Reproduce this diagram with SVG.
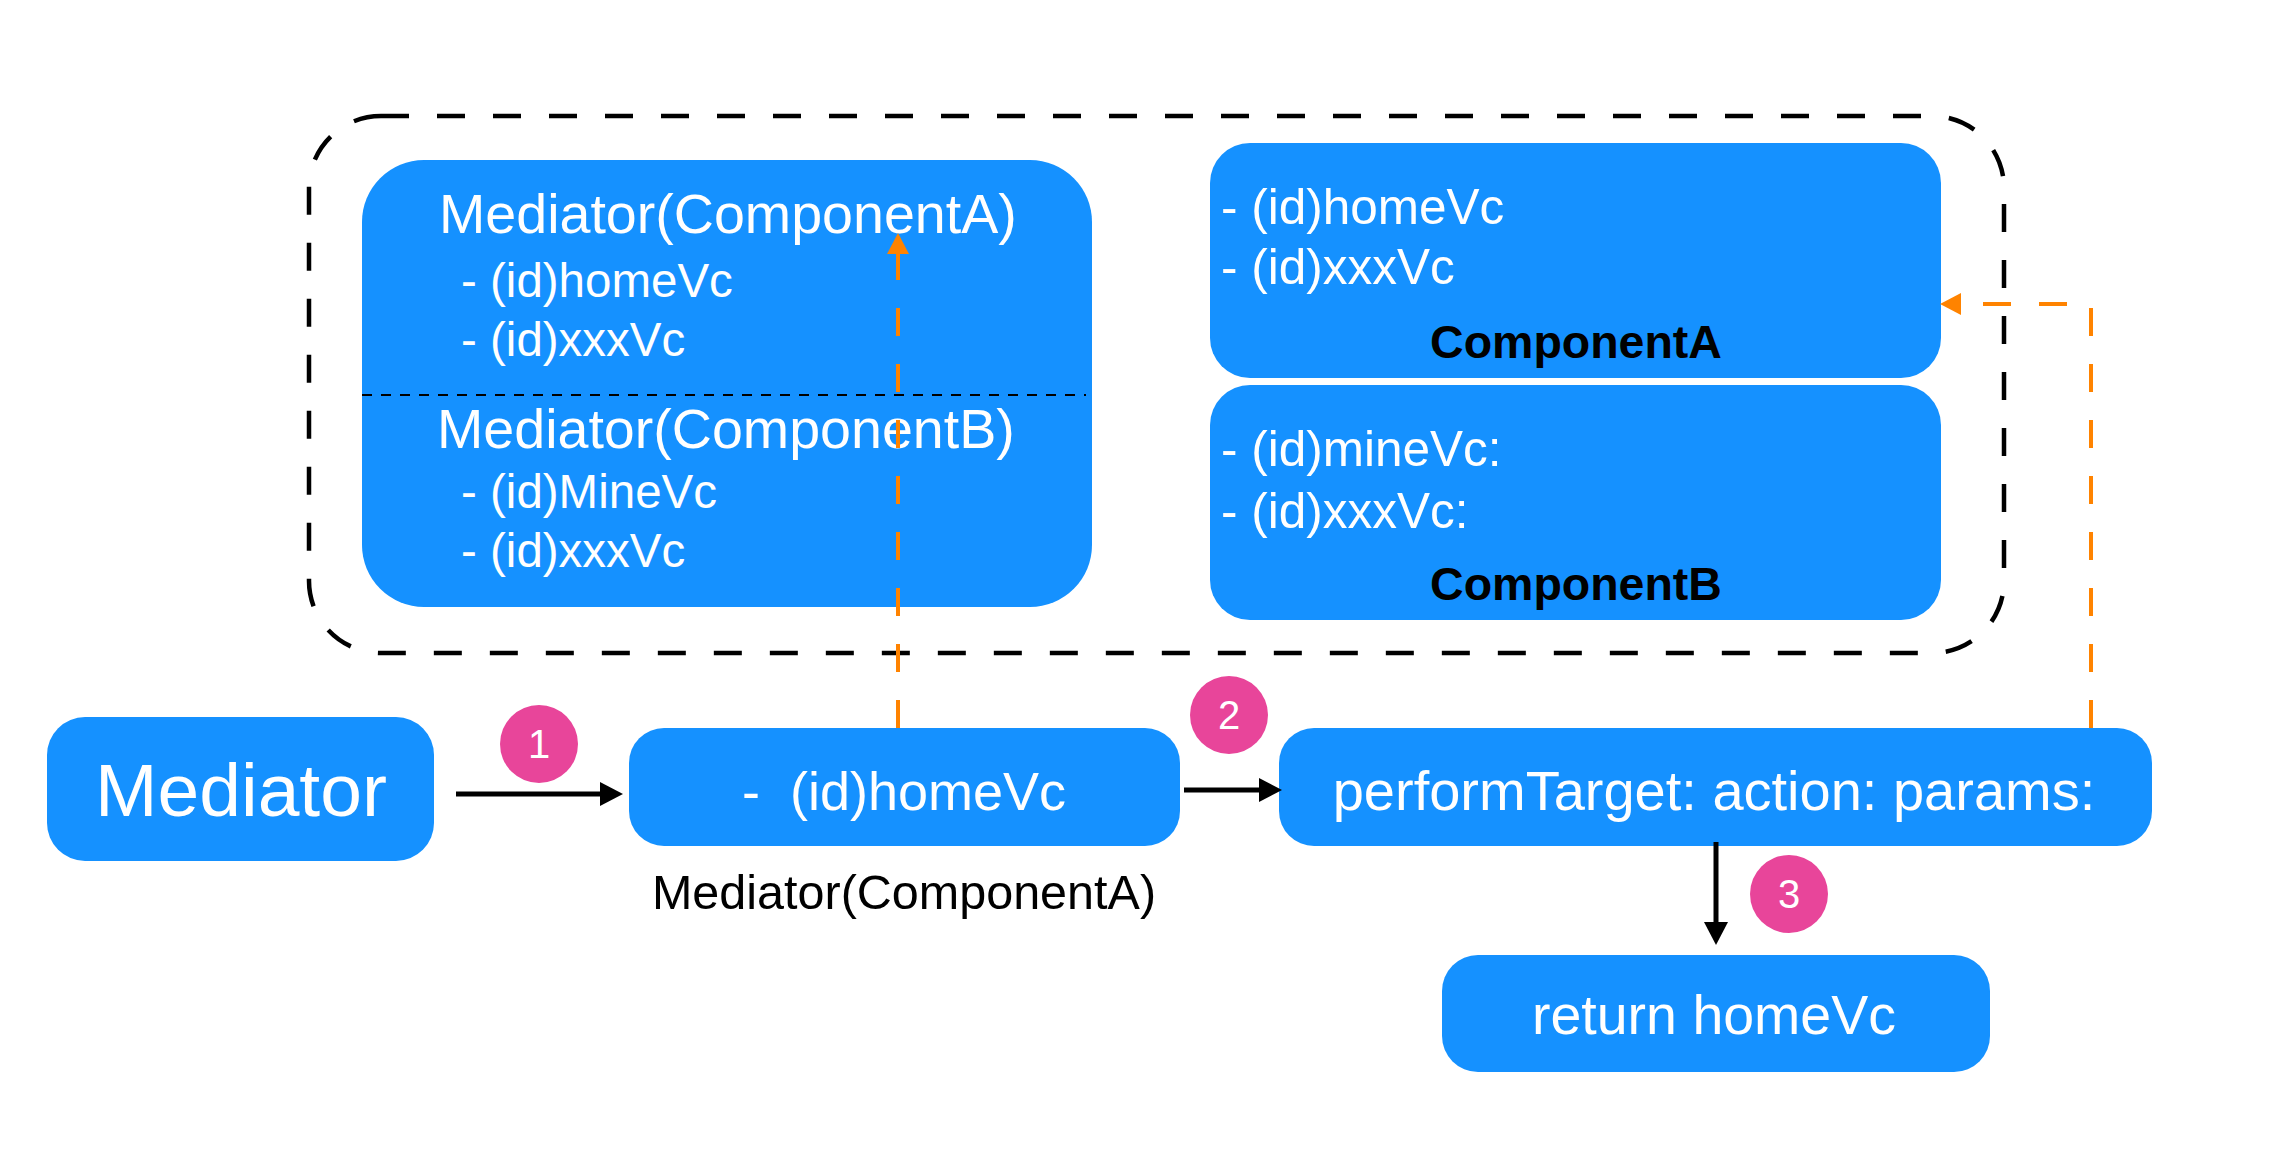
<svg xmlns="http://www.w3.org/2000/svg" width="2280" height="1176" viewBox="0 0 2280 1176">
<style>
.box{fill:#1591FF}
.w{fill:#FFFFFF;font-family:"Liberation Sans",Arial,sans-serif}
.b{fill:#000000;font-family:"Liberation Sans",Arial,sans-serif}
.bold{font-weight:bold}
.badge{fill:#E8459A}
.num{fill:#FFFFFF;font-family:"Liberation Sans",Arial,sans-serif;font-size:40px;text-anchor:middle}
.conn{fill:none;stroke:#000;stroke-width:5}
.oconn{fill:none;stroke:#FF8300;stroke-width:4;stroke-dasharray:28 28}
</style>
<defs>
<marker id="ah" markerUnits="userSpaceOnUse" markerWidth="23" markerHeight="24" refX="0" refY="12" orient="auto" viewBox="0 0 23 24"><path d="M0,0 L23,12 L0,24 z" fill="#000"/></marker>
<marker id="oh" markerUnits="userSpaceOnUse" markerWidth="21" markerHeight="22" refX="0" refY="11" orient="auto" viewBox="0 0 21 22"><path d="M0,0 L21,11 L0,22 z" fill="#FF8300"/></marker>
</defs>
<rect width="2280" height="1176" fill="#FFFFFF"/>

<g id="container">
<rect x="309" y="116" width="1695" height="537" rx="72" fill="none" stroke="#000" stroke-width="4.5" stroke-dasharray="28 28"/>
</g>

<g id="mediator-categories">
<rect class="box" x="362" y="160" width="730" height="447" rx="62"/>
<line x1="362" y1="395" x2="1086" y2="395" stroke="#000" stroke-width="2" stroke-dasharray="10 9"/>
<text class="w" x="439" y="233" font-size="55.6">Mediator(ComponentA)</text>
<text class="w" x="461" y="297" font-size="47.5">- (id)homeVc</text>
<text class="w" x="461" y="356" font-size="47.5">- (id)xxxVc</text>
<text class="w" x="437" y="448" font-size="55.6">Mediator(ComponentB)</text>
<text class="w" x="461" y="508" font-size="47.5">- (id)MineVc</text>
<text class="w" x="461" y="567" font-size="47.5">- (id)xxxVc</text>
</g>

<g id="componentA">
<rect class="box" x="1210" y="143" width="731" height="235" rx="40"/>
<text class="w" x="1221" y="224" font-size="49.5">- (id)homeVc</text>
<text class="w" x="1221" y="284" font-size="49.5">- (id)xxxVc</text>
<text class="b bold" x="1576" y="358" font-size="46.5" text-anchor="middle">ComponentA</text>
</g>

<g id="componentB">
<rect class="box" x="1210" y="385" width="731" height="235" rx="40"/>
<text class="w" x="1221" y="466" font-size="49.5">- (id)mineVc:</text>
<text class="w" x="1221" y="528" font-size="49.5">- (id)xxxVc:</text>
<text class="b bold" x="1576" y="600" font-size="46.5" text-anchor="middle">ComponentB</text>
</g>

<g id="mediator">
<rect class="box" x="47" y="717" width="387" height="144" rx="38"/>
<text class="w" x="241" y="816" font-size="75" text-anchor="middle">Mediator</text>
</g>

<g id="homeVc-call">
<rect class="box" x="629" y="728" width="551" height="118" rx="35"/>
<text class="w" x="904" y="810" font-size="54" text-anchor="middle" xml:space="preserve">-  (id)homeVc</text>
<text class="b" x="904" y="909" font-size="48.5" text-anchor="middle">Mediator(ComponentA)</text>
</g>

<g id="performTarget">
<rect class="box" x="1279" y="728" width="873" height="118" rx="35"/>
<text class="w" x="1714" y="810" font-size="56" text-anchor="middle">performTarget: action: params:</text>
</g>

<g id="return-homeVc">
<rect class="box" x="1442" y="955" width="548" height="117" rx="36"/>
<text class="w" x="1714" y="1034" font-size="55.5" text-anchor="middle">return homeVc</text>
</g>

<g id="connectors">
<line class="conn" x1="456" y1="794" x2="600" y2="794" marker-end="url(#ah)"/>
<line class="conn" x1="1184" y1="790" x2="1259" y2="790" marker-end="url(#ah)"/>
<line class="conn" x1="1716" y1="842" x2="1716" y2="922" stroke-width="4" marker-end="url(#ah)"/>
<path class="oconn" d="M898,728 L898,254" marker-end="url(#oh)"/>
<path class="oconn" d="M2091,728 L2091,304 L1961,304" marker-end="url(#oh)"/>
</g>

<g id="steps">
<circle class="badge" cx="539" cy="744" r="39"/>
<text class="num" x="539" y="758">1</text>
<circle class="badge" cx="1229" cy="715" r="39"/>
<text class="num" x="1229" y="729">2</text>
<circle class="badge" cx="1789" cy="894" r="39"/>
<text class="num" x="1789" y="908">3</text>
</g>
</svg>
